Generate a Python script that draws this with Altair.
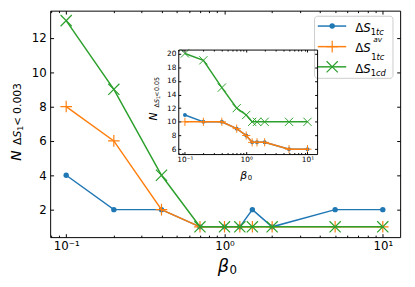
import altair as alt
import pandas as pd

# ---------------- data ----------------
x_vals = [0.1, 0.2, 0.4, 0.7, 1.0, 1.25, 1.5, 2.0, 5.0, 10.0]
main_tc = [4, 2, 2, 1, 1, 1, 2, 1, 2, 2]
main_av = [8, 6, 2, 1, 1, 1, 1, 1, 1, 1]
main_cd = [13, 9, 4, 1, 1, 1, 1, 1, 1, 1]
inset_tc = [11, 10, 10, 9, 8, 7, 7, 7, 6, 6]
inset_av = [10, 10, 10, 9, 8, 7, 7, 7, 6, 6]
inset_cd = [20, 19, 15, 12, 11, 10, 10, 10, 10, 10]

x_major = [0.1, 1, 10]
x_minor = [0.08, 0.09, 0.2, 0.3, 0.4, 0.5, 0.6, 0.7, 0.8, 0.9,
           2, 3, 4, 5, 6, 7, 8, 9]
main_y_ticks = [2, 4, 6, 8, 10, 12]
inset_y_ticks = [6, 8, 10, 12, 14, 16, 18, 20]
log_label = "datum.value < 0.5 ? '10⁻¹' : (datum.value < 5 ? '10⁰' : '10¹')"

# ---------------- layout / style ----------------
W, H = 357, 231
MX = [0.0792, 12.87]
MY = [0.4, 13.58]
IX = [0.0779, 14.35]
IY = [5.28, 20.57]
IX_R = [130.7, 272.3]
IY_R = [146.3, 39.7]

BLUE, ORANGE, GREEN = "#1f77b4", "#ff7f0e", "#2ca02c"
PLUS = "M-1,0L1,0M0,-1L0,1"
CROSS = "M-1,-1L1,1M-1,1L1,-1"
FONT = "DejaVu Sans"

dummy = pd.DataFrame({"a": [0]})


def axis(orient, offset=0, values=None, labels=False, domain=False,
         tick=0, label_size=12, label_pad=4, expr=None):
    kw = dict(orient=orient, offset=offset, labels=labels, domain=domain,
              ticks=tick > 0, tickSize=tick, title=None, grid=False,
              zindex=1, labelFontSize=label_size, labelPadding=label_pad,
              labelFlush=False, labelOverlap=False)
    if values is not None:
        kw["values"] = values
    if expr is not None:
        kw["labelExpr"] = expr
    return alt.Axis(**kw)


def series_layers(xv, yv, color, shape, size, xdom, xr, ydom, yr,
                  ax_line, ay_line, ax_pt, ay_pt, lw=1.5, sw=1.2):
    df = pd.DataFrame({"x": xv, "y": yv})
    xs = alt.Scale(type="log", domain=xdom, range=xr)
    ys = alt.Scale(domain=ydom, range=yr)
    line = alt.Chart(df).mark_line(color=color, strokeWidth=lw).encode(
        x=alt.X("x:Q", scale=xs, axis=ax_line),
        y=alt.Y("y:Q", scale=ys, axis=ay_line),
    )
    if shape == "circle":
        pm = dict(shape="circle", filled=True, size=size, color=color, opacity=1)
    else:
        pm = dict(shape=shape, filled=False, size=size, color=color,
                  opacity=1, strokeWidth=sw)
    pts = alt.Chart(df).mark_point(**pm).encode(
        x=alt.X("x:Q", scale=xs, axis=ax_pt),
        y=alt.Y("y:Q", scale=ys, axis=ay_pt),
    )
    return [line, pts]


def txt(s, x, y, size, italic=False, align="left", angle=0, baseline="alphabetic"):
    kw = dict(text=s, fontSize=size, align=align, baseline=baseline,
              font=FONT, color="black")
    if italic:
        kw["fontStyle"] = "italic"
    if angle:
        kw["angle"] = angle
    return alt.Chart(dummy).mark_text(**kw).encode(x=alt.value(x), y=alt.value(y))


layers = []
M = dict(xdom=MX, xr=[0, W], ydom=MY, yr=[H, 0])

# main chart: blue, orange, green
layers += series_layers(
    x_vals, main_tc, BLUE, "circle", 30, **M,
    ax_line=axis("bottom", 0, x_major, labels=True, expr=log_label, label_pad=4),
    ay_line=axis("left", 0, main_y_ticks, labels=True, label_pad=4),
    ax_pt=axis("top", -H, x_major, tick=3.5),
    ay_pt=axis("right", -W, main_y_ticks, tick=3.5),
)
layers += series_layers(
    x_vals, main_av, ORANGE, PLUS, 140, **M,
    ax_line=axis("top", -H, x_minor, tick=2),
    ay_line=axis("left", -W, main_y_ticks, tick=3.5),
    ax_pt=axis("bottom", -H, x_major, tick=3.5),
    ay_pt=None,
)
layers += series_layers(
    x_vals, main_cd, GREEN, CROSS, 130, **M,
    ax_line=axis("bottom", -H, x_minor, tick=2),
    ay_line=None,
    ax_pt=None,
    ay_pt=None,
)

# inset
I = dict(xdom=IX, xr=IX_R, ydom=IY, yr=IY_R)
layers += series_layers(
    x_vals, inset_tc, BLUE, "circle", 16, **I,
    ax_line=axis("bottom", -(H - IY_R[0]), x_major, labels=True, domain=True,
                 label_size=7.5, label_pad=2, expr=log_label),
    ay_line=axis("left", -IX_R[0], inset_y_ticks, labels=True, domain=True,
                 label_size=7.5, label_pad=2.5),
    ax_pt=axis("top", -IY_R[0], x_major, tick=2.5),
    ay_pt=axis("right", -(W - IX_R[0]), inset_y_ticks, tick=2.5),
    sw=1.0,
)
layers += series_layers(
    x_vals, inset_av, ORANGE, PLUS, 70, **I,
    ax_line=axis("top", -IY_R[0], x_minor, tick=1.5),
    ay_line=axis("left", -IX_R[1], inset_y_ticks, domain=True, tick=2.5),
    ax_pt=axis("bottom", -(H - IY_R[1]), x_major, domain=True, tick=2.5),
    ay_pt=None,
    sw=1.0,
)
layers += series_layers(
    x_vals, inset_cd, GREEN, CROSS, 70, **I,
    ax_line=axis("bottom", -(H - IY_R[1]), x_minor, tick=1.5),
    ay_line=None,
    ax_pt=None,
    ay_pt=None,
    sw=1.0,
)

# axis titles (main)
layers += [
    txt("β", 171, 266.6, 18, italic=True),
    txt("0", 183, 268.7, 12),
    txt("N", -30, 153, 14, italic=True, angle=270),
    txt("Δ", -29.5, 137, 11, angle=270),
    txt("S", -29.5, 129.5, 11, italic=True, angle=270),
    txt("1", -27.5, 122.5, 8, angle=270),
    txt("<", -29.5, 113, 11, angle=270, align="center"),
    txt("0.003", -29.5, 105.3, 11, angle=270),
]
# axis titles (inset)
layers += [
    txt("β", 194, 171.5, 11, italic=True),
    txt("0", 201.5, 172.7, 7),
    txt("N", 109, 112, 11, italic=True, angle=270),
    txt("Δ", 110.7, 98.7, 6.5, angle=270),
    txt("S", 110.7, 94.3, 6.5, italic=True, angle=270),
    txt("1", 112, 90.2, 5, angle=270),
    txt("<", 110.7, 85.3, 6.5, angle=270, align="center"),
    txt("0.05", 110.7, 82, 6.5, angle=270),
]

# legend
legend_y = [15.7, 36.7, 57.3]
layers.append(
    alt.Chart(dummy).mark_rect(fill="white", fillOpacity=0.8, stroke="#cccccc",
                               strokeWidth=1, cornerRadius=3).encode(
        x=alt.value(269.7), x2=alt.value(349.7), y=alt.value(5.7), y2=alt.value(69))
)
for yy, col, shp, sz in zip(legend_y, [BLUE, ORANGE, GREEN],
                            ["circle", PLUS, CROSS], [30, 140, 130]):
    layers.append(alt.Chart(dummy).mark_rule(color=col, strokeWidth=1.5).encode(
        x=alt.value(273), x2=alt.value(302), y=alt.value(yy)))
    if shp == "circle":
        pm = dict(shape="circle", filled=True, size=sz, color=col, opacity=1)
    else:
        pm = dict(shape=shp, filled=False, size=sz, color=col, opacity=1, strokeWidth=1.2)
    layers.append(alt.Chart(dummy).mark_point(**pm).encode(
        x=alt.value(287.7), y=alt.value(yy)))

layers += [
    txt("Δ", 311.3, 21.7, 12), txt("S", 319.5, 21.7, 12, italic=True),
    txt("1", 327, 25, 8.5), txt("tc", 332.4, 25, 8.5, italic=True),
    txt("Δ", 311.3, 42.3, 12), txt("S", 319.5, 42.3, 12, italic=True),
    txt("av", 329.5, 31.5, 7.5, italic=True),
    txt("1", 327.5, 50, 8.5), txt("tc", 332.9, 50, 8.5, italic=True),
    txt("Δ", 311.3, 63.3, 12), txt("S", 319.5, 63.3, 12, italic=True),
    txt("1", 327, 66.3, 8.5), txt("cd", 332.4, 66.3, 8.5, italic=True),
]

chart = alt.layer(*layers).resolve_scale(
    x="independent", y="independent"
).properties(
    width=W, height=H,
    autosize=alt.AutoSizeParams(type="none"),
    padding={"left": 43, "top": 0, "right": 7, "bottom": 40},
).configure_view(
    stroke="black", strokeWidth=1
).configure_axis(
    labelFont=FONT, labelColor="black", tickColor="black",
    domainColor="black", tickWidth=1, domainWidth=1, grid=False
)

chart.save("out.html", embed_options={"renderer": "svg", "actions": False})
